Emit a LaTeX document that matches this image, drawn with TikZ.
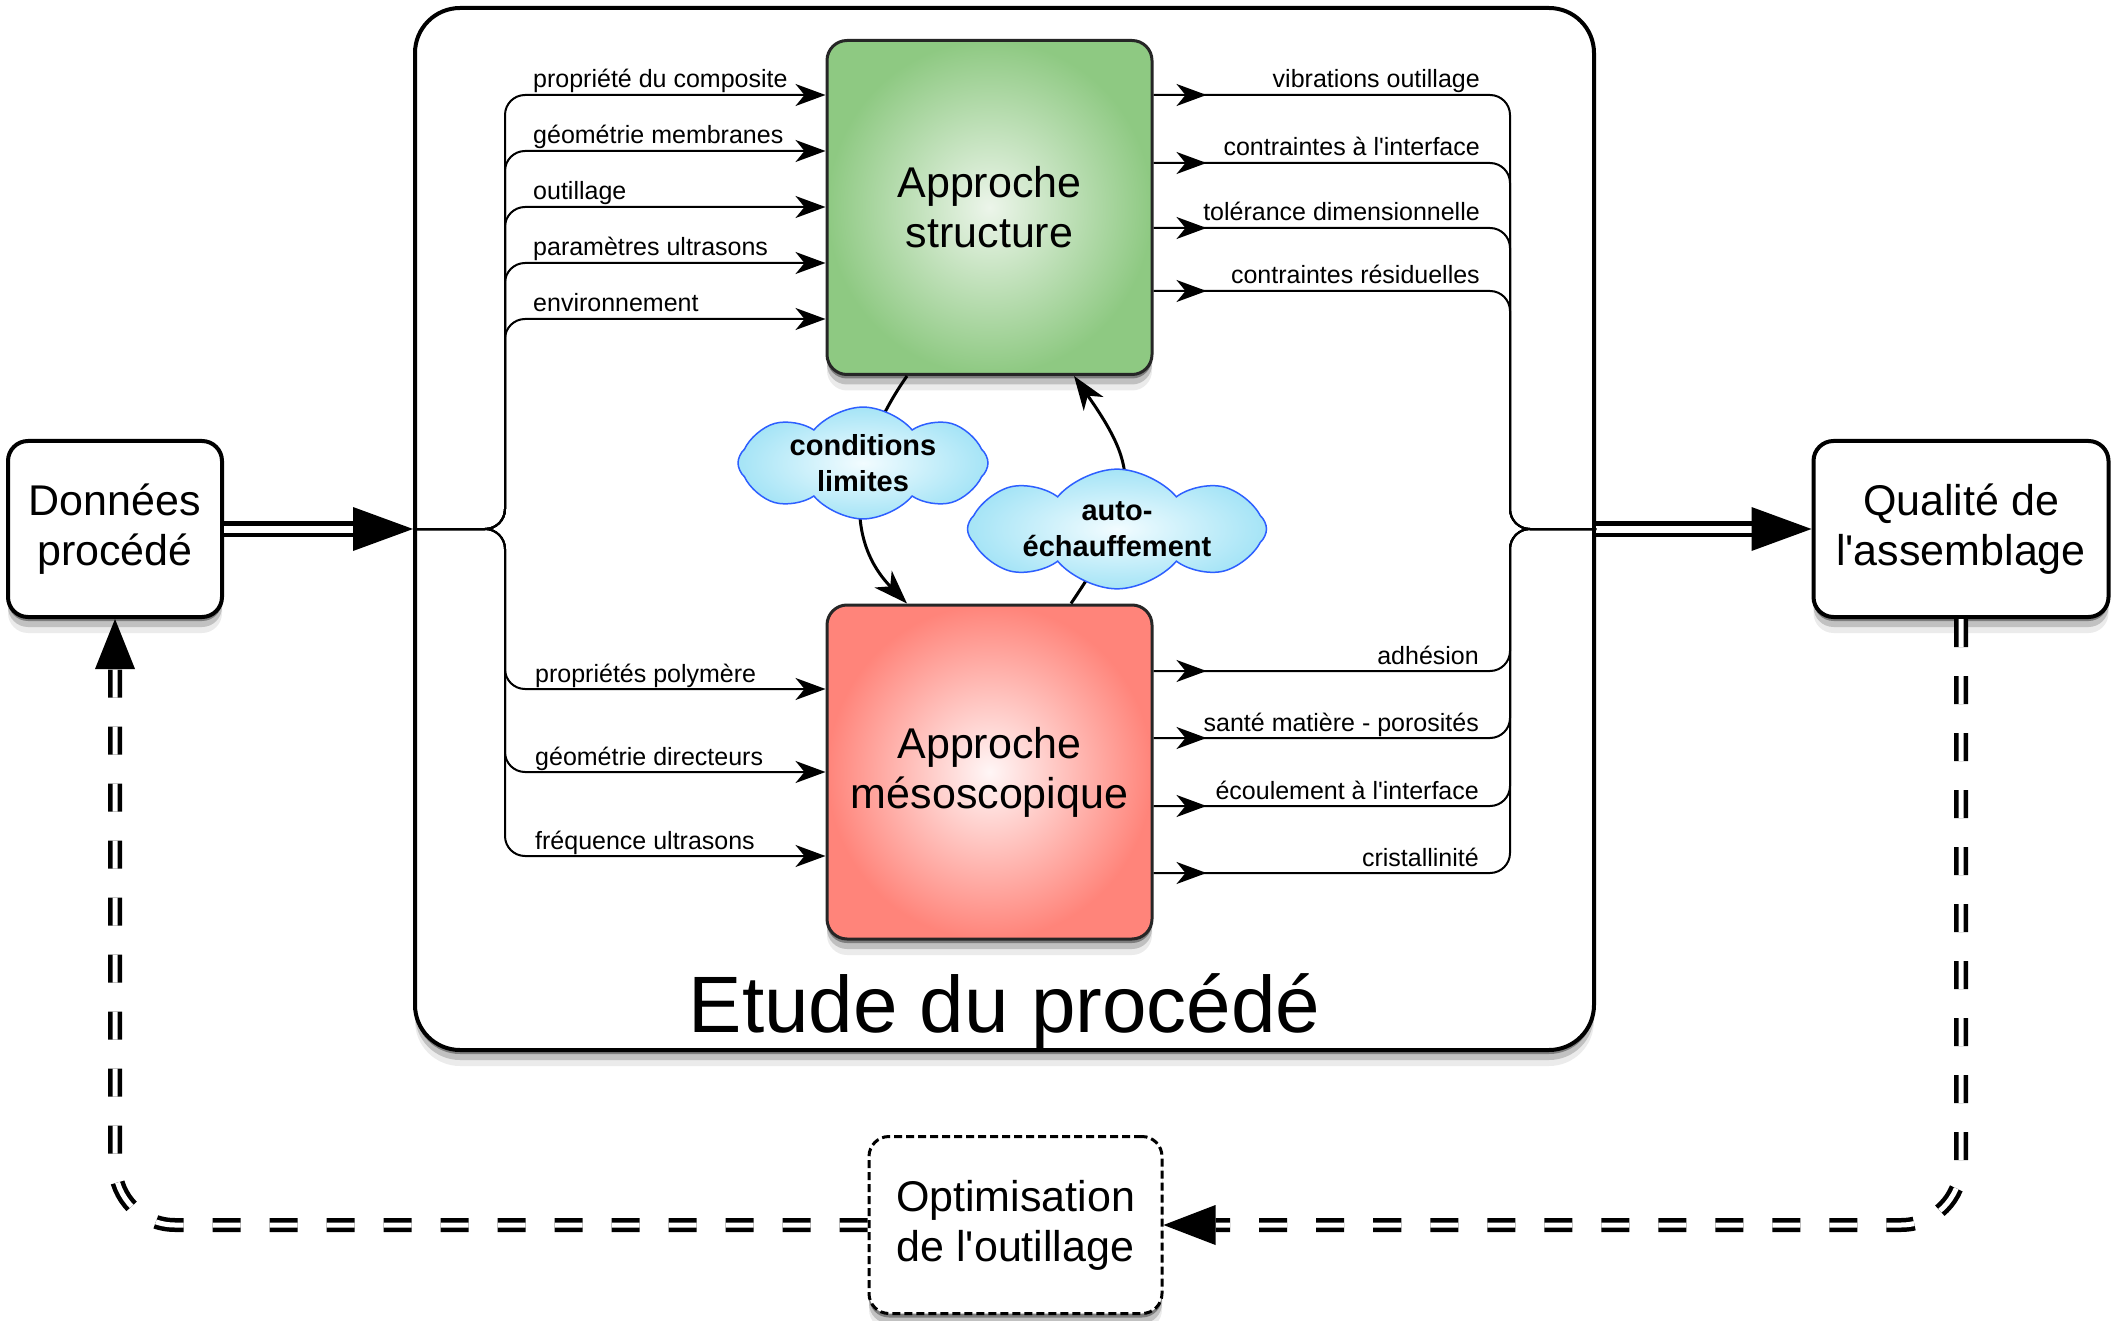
\documentclass[tikz,border=0pt]{standalone}
\usepackage{fontspec}
\setmainfont{Liberation Sans}
\newfontfamily\lsans{Liberation Sans}
\usetikzlibrary{arrows.meta,shapes.symbols,shadows,decorations.markings}
\newcommand\fSmall{\lsans\fontsize{25}{30}\selectfont}
\newcommand\fBox{\lsans\fontsize{43}{50}\selectfont}
\newcommand\fCloud{\lsans\bfseries\fontsize{29}{36}\selectfont}
\newcommand\fTitle{\lsans\fontsize{80}{90}\selectfont}
\definecolor{gin}{RGB}{236,245,234}
\definecolor{gout}{RGB}{142,201,130}
\definecolor{rin}{RGB}{255,246,246}
\definecolor{rout}{RGB}{255,132,122}
\definecolor{cin}{RGB}{242,252,255}
\definecolor{cout}{RGB}{165,228,246}
\definecolor{cbord}{RGB}{45,95,255}
\tikzset{
  shad/.style={drop shadow={shadow xshift=0pt,shadow yshift=-4pt,opacity=0.35,fill=black},
               drop shadow={shadow xshift=0pt,shadow yshift=-10pt,opacity=0.18,fill=black},
               drop shadow={shadow xshift=0pt,shadow yshift=-16pt,opacity=0.08,fill=black}},
  bbox/.style={draw, line width=4pt, rounded corners=20pt, fill=white, align=center, font=\fBox, inner sep=0pt},
  appr/.style={draw=black!85, line width=3pt, rounded corners=20pt, align=center, font=\fBox, inner sep=0pt,
               minimum width=325pt, minimum height=334pt},
  cloudbox/.style={cloud, cloud puffs=8, cloud puff arc=100, cloud ignores aspect, draw=cbord, line width=1.5pt,
               inner color=cin, outer color=cout, font=\fCloud, align=center, inner sep=0pt},
  conn/.style={line width=2pt, line join=round, rounded corners=20pt},
  inarr/.style={conn, -{Stealth[length=30pt,width=22pt,inset=9pt]}},
  outarr/.style={conn, postaction={decorate}, decoration={markings,
               mark=at position 53pt with {\arrow{Stealth[length=30pt,width=22pt,inset=9pt]}}}},
  curv/.style={line width=3pt, -{Stealth[length=34pt,width=24pt,inset=10pt]}},
  dbl/.style={double=white, double distance=7pt, line width=4.5pt},
  dshd/.style={double=white, double distance=5pt, line width=4.5pt, dash pattern=on 28pt off 29pt, rounded corners=60pt},
  lblL/.style={font=\fSmall, anchor=base west, inner sep=0pt},
  lblR/.style={font=\fSmall, anchor=base east, inner sep=0pt}
}
\begin{document}
\begin{tikzpicture}[x=1pt,y=-1pt]
\useasboundingbox (0,0) rectangle (2113,1321);
% outer frame
\node[draw, line width=4pt, rounded corners=45pt, fill=white, shad, minimum width=1179pt, minimum height=1042pt, inner sep=0pt] (etude) at (1004.5,529) {};
\node[font=\fTitle, anchor=base, inner sep=0pt] (etudelbl) at (1004.5,1032) {Etude du procédé};
% main boxes
\node[appr, shad, inner color=gin, outer color=gout] (gbox) at (989.5,207.5) {Approche\\structure};
\node[appr, shad, inner color=rin, outer color=rout] (rbox) at (989.5,772) {Approche\\mésoscopique};
\node[bbox, shad, minimum width=214pt, minimum height=176pt] (don) at (115,529) {Données\\procédé};
\node[bbox, shad, minimum width=295pt, minimum height=176pt] (qual) at (1961,529) {Qualité de\\l'assemblage};
\node[bbox, line width=3pt, dash pattern=on 8pt off 4pt, shad, minimum width=293pt, minimum height=177pt] (opt) at (1015.5,1225) {Optimisation\\de l'outillage};
% big double arrows
\draw[dbl] (don.east) -- ([xshift=-60pt]etude.west);
\fill ([xshift=-60pt,yshift=22pt]etude.west) -- (etude.west) -- ([xshift=-60pt,yshift=-22pt]etude.west) -- cycle;
\draw[dbl] (etude.east) -- ([xshift=-60pt]qual.west);
\fill ([xshift=-60pt,yshift=22pt]qual.west) -- (qual.west) -- ([xshift=-60pt,yshift=-22pt]qual.west) -- cycle;
% dashed feedback loop
\draw[dshd] (qual.south) -- (1961,1225) -- ([xshift=52pt]opt.east);
\fill ([xshift=52pt,yshift=20pt]opt.east) -- (opt.east) -- ([xshift=52pt,yshift=-20pt]opt.east) -- cycle;
\draw[dshd] (opt.west) -- (115,1225) -- ([yshift=-50pt]don.south);
\fill ([xshift=-20pt,yshift=-50pt]don.south) -- (don.south) -- ([xshift=20pt,yshift=-50pt]don.south) -- cycle;
% inputs to structure
\draw[inarr] (etude.west) -- (505,529) -- (505,95) -- ([yshift=112.5pt]gbox.west);
\draw[inarr] (etude.west) -- (505,529) -- (505,151) -- ([yshift=56.5pt]gbox.west);
\draw[inarr] (etude.west) -- (505,529) -- (505,207) -- ([yshift=0.5pt]gbox.west);
\draw[inarr] (etude.west) -- (505,529) -- (505,263) -- ([yshift=-55.5pt]gbox.west);
\draw[inarr] (etude.west) -- (505,529) -- (505,319) -- ([yshift=-111.5pt]gbox.west);
% inputs to meso
\draw[inarr] (etude.west) -- (505,529) -- (505,689) -- ([yshift=83pt]rbox.west);
\draw[inarr] (etude.west) -- (505,529) -- (505,772) -- (rbox.west);
\draw[inarr] (etude.west) -- (505,529) -- (505,856) -- ([yshift=-84pt]rbox.west);
% outputs
\draw[outarr] ([yshift=112.5pt]gbox.east) -- (1510,95) -- (1510,529) -- (etude.east);
\draw[outarr] ([yshift=44.5pt]gbox.east) -- (1510,163) -- (1510,529) -- (etude.east);
\draw[outarr] ([yshift=-20.5pt]gbox.east) -- (1510,228) -- (1510,529) -- (etude.east);
\draw[outarr] ([yshift=-83.5pt]gbox.east) -- (1510,291) -- (1510,529) -- (etude.east);
\draw[outarr] ([yshift=101pt]rbox.east) -- (1510,671) -- (1510,529) -- (etude.east);
\draw[outarr] ([yshift=34pt]rbox.east) -- (1510,738) -- (1510,529) -- (etude.east);
\draw[outarr] ([yshift=-34pt]rbox.east) -- (1510,806) -- (1510,529) -- (etude.east);
\draw[outarr] ([yshift=-101pt]rbox.east) -- (1510,873) -- (1510,529) -- (etude.east);
% coupling curves
\draw[curv] ([xshift=-82.5pt]gbox.south) .. controls (855,450) and (840,535) .. ([xshift=-82.5pt]rbox.north);
\draw[curv] ([xshift=81.5pt]rbox.north) .. controls (1141,500) and (1140,470) .. ([xshift=84.5pt]gbox.south);
\node[cloudbox, minimum width=250pt, minimum height=99pt] (cl1) at (863,463) {conditions\\limites};
\node[cloudbox, minimum width=299pt, minimum height=98pt] (cl2) at (1117,529) {auto-\\échauffement};
% labels
\node[lblL] (l1) at (533,88) {propriété du composite};
\node[lblL] (l2) at (533,144) {géométrie membranes};
\node[lblL] (l3) at (533,200) {outillage};
\node[lblL] (l4) at (533,256) {paramètres ultrasons};
\node[lblL] (l5) at (533,312) {environnement};
\node[lblL] (l6) at (535,682) {propriétés polymère};
\node[lblL] (l7) at (535,765) {géométrie directeurs};
\node[lblL] (l8) at (535,849) {fréquence ultrasons};
\node[lblR] (r1) at (1480,88) {vibrations outillage};
\node[lblR] (r2) at (1480,156) {contraintes à l'interface};
\node[lblR] (r3) at (1480,221) {tolérance dimensionnelle};
\node[lblR] (r4) at (1480,284) {contraintes résiduelles};
\node[lblR] (r5) at (1479,664) {adhésion};
\node[lblR] (r6) at (1479,731) {santé matière - porosités};
\node[lblR] (r7) at (1479,799) {écoulement à l'interface};
\node[lblR] (r8) at (1479,866) {cristallinité};
\end{tikzpicture}
\end{document}
